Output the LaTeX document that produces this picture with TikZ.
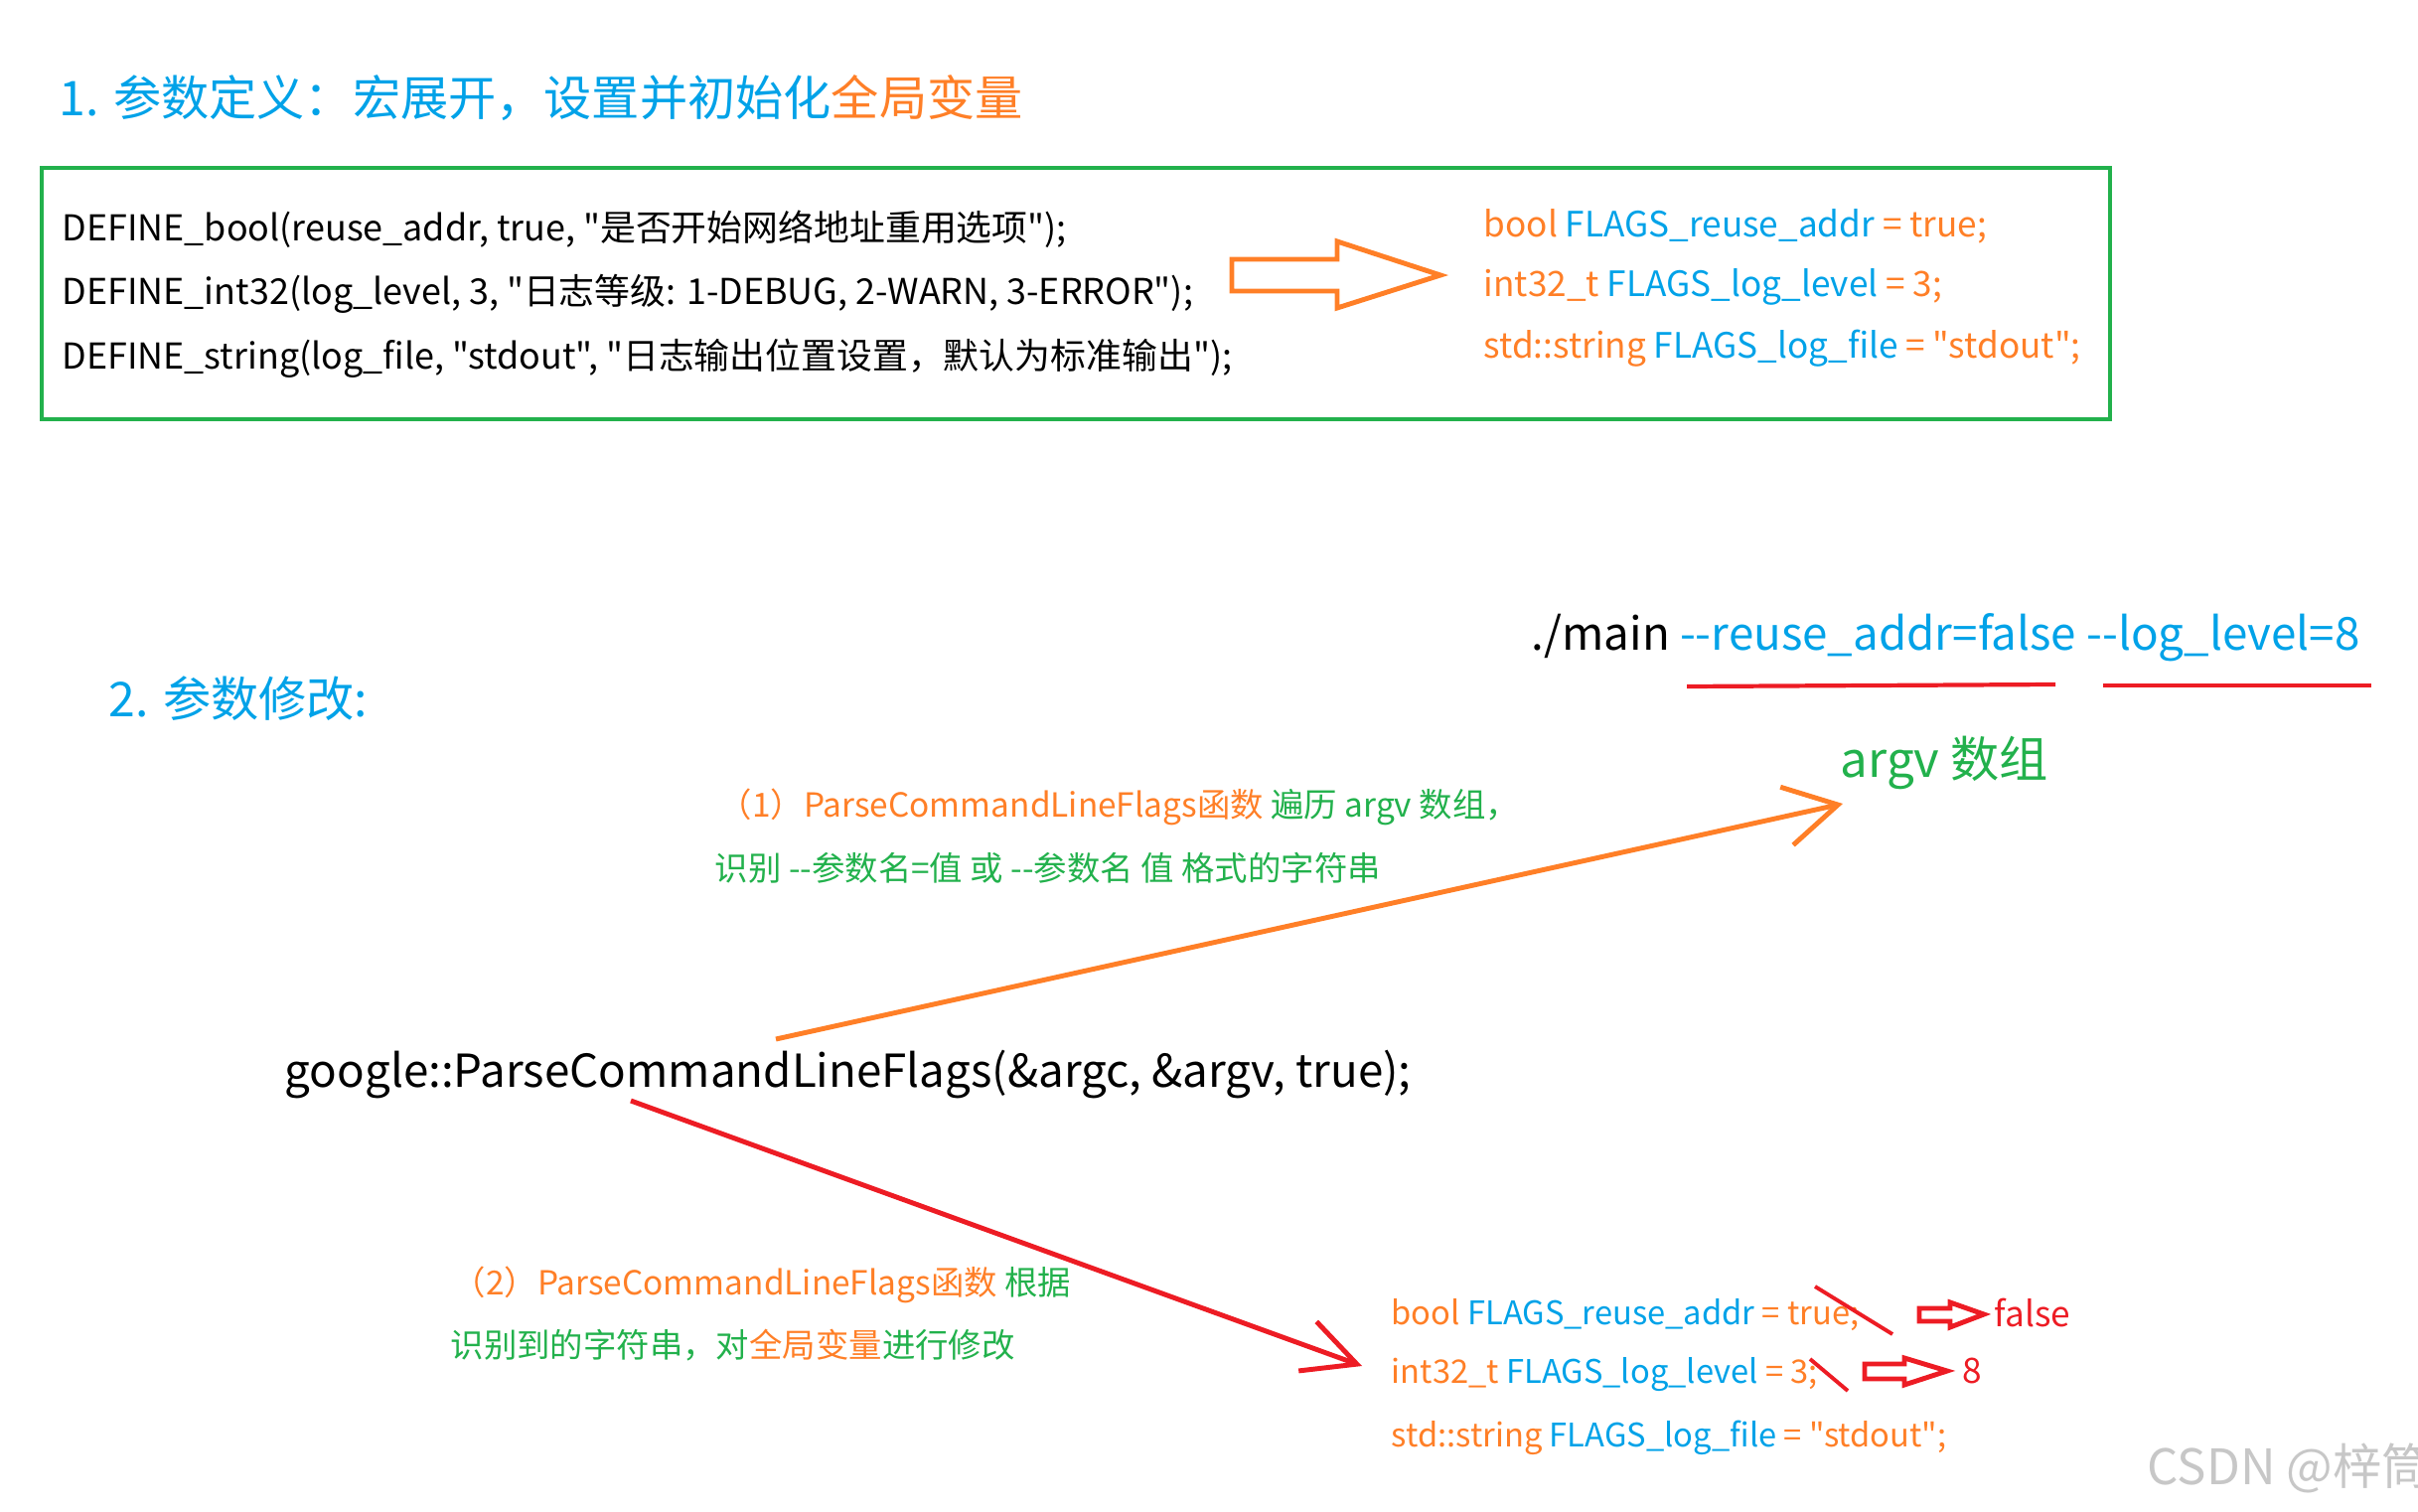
\documentclass[tikz,border=0pt]{standalone}
\usepackage{fontspec}
\setmainfont{Noto Sans CJK SC}[Ligatures=TeXOff]
\usetikzlibrary{arrows.meta}

\definecolor{paintblue}{RGB}{0,162,232}
\definecolor{paintorange}{RGB}{255,127,39}
\definecolor{paintgreen}{RGB}{34,177,76}
\definecolor{paintred}{RGB}{237,28,36}

\newcommand{\ob}[1]{\textcolor{paintorange}{#1}}
\newcommand{\bl}[1]{\textcolor{paintblue}{#1}}

\begin{document}
\begin{tikzpicture}[x=0.01cm, y=-0.01cm, >=Stealth,
    every node/.style={inner sep=0pt, anchor=west},
    head/.style={font=\fontsize{13.7}{16}\selectfont, text=paintblue},
    code/.style={font=\fontsize{10.2}{13}\selectfont},
    flag/.style={font=\fontsize{10}{13}\selectfont},
    newflag/.style={font=\fontsize{9.3}{12}\selectfont},
    big/.style={font=\fontsize{13}{16}\selectfont},
    note/.style={font=\fontsize{9.5}{12}\selectfont, text=paintgreen}]
    \useasboundingbox (0,0) rectangle (2434,1522);

    % 1. 参数定义
    \node[head] (title1) at (59,99) {1. 参数定义：宏展开，设置并初始化\ob{全局变量}};
    \draw[paintgreen, line width=1.4pt] (42,169) rectangle (2124,422);

    % DEFINE 宏
    \node[code] (defbool) at (62,231) {DEFINE\_bool(reuse\_addr, true, "是否开始网络地址重用选项");};
    \node[code] (defint) at (62,296) {DEFINE\_int32(log\_level, 3, "日志等级: 1-DEBUG, 2-WARN, 3-ERROR");};
    \node[code] (defstr) at (62,361) {DEFINE\_string(log\_file, "stdout", "日志输出位置设置，默认为标准输出");};

    % 空心箭头
    \draw[paintorange, line width=1.4pt] (1240,261) -- (1346,261) -- (1346,243) -- (1450,277)
        -- (1346,310) -- (1346,293) -- (1240,293) -- cycle;

    % 展开后的全局变量
    \node[flag] (flagbool) at (1493,228) {\ob{bool} \bl{FLAGS\_reuse\_addr} \ob{= true;}};
    \node[flag] (flagint) at (1493,289) {\ob{int32\_t} \bl{FLAGS\_log\_level} \ob{= 3;}};
    \node[flag] (flagstr) at (1493,351) {\ob{std::string} \bl{FLAGS\_log\_file} \ob{= "stdout";}};

    % 2. 参数修改
    \node[head] (title2) at (109,703) {2. 参数修改:};
    \node[big] (cmd) at (1541,642) {./main \bl{-{}-reuse\_addr=false -{}-log\_level=8}};
    \draw[paintred, line width=1.2pt] (1698,691) -- (2069,689);
    \draw[paintred, line width=1.2pt] (2117,690) -- (2387,690);
    \node[big, font=\fontsize{14}{17}\selectfont, text=paintgreen] (argv) at (1852,768) {argv 数组};

    \node[note] (step1a) at (723,812) {\ob{（1）ParseCommandLineFlags函数} 遍历 argv 数组，};
    \node[note] (step1b) at (719,874) {识别\ -{}-参数名=值\ 或\ -{}-参数名\ 值\ 格式的字符串};

    \node[big] (google) at (286,1082) {google::ParseCommandLineFlags(\&argc, \&argv, true);};

    \node[note] (step2a) at (455,1293) {\ob{（2）ParseCommandLineFlags函数} 根据};
    \node[note] (step2b) at (453,1354) {识别到的字符串，对\ob{全局变量}进行修改};

    % 修改后的全局变量
    \node[newflag] (newbool) at (1400,1324) {\ob{bool} \bl{FLAGS\_reuse\_addr} \ob{= true;}};
    \node[newflag] (newint) at (1400,1384) {\ob{int32\_t} \bl{FLAGS\_log\_level} \ob{= 3;}};
    \node[newflag] (newstr) at (1400,1447) {\ob{std::string} \bl{FLAGS\_log\_file} \ob{= "stdout";}};
    \node[flag, text=paintred] (valfalse) at (2007,1321) {false};
    \node[flag, text=paintred] (valeight) at (1975,1380) {8};

    % 划掉旧值
    \draw[paintred, line width=1.1pt] (1827,1295) -- (1905,1343);
    \draw[paintred, line width=1.1pt] (1822,1368) -- (1860,1400);
    \draw[paintred, line width=1.4pt] (1932,1317) -- (1963,1317) -- (1963,1311) -- (1997,1323)
        -- (1963,1336) -- (1963,1330) -- (1932,1330) -- cycle;
    \draw[paintred, line width=1.4pt] (1877,1373) -- (1917,1373) -- (1917,1367) -- (1960,1380)
        -- (1917,1394) -- (1917,1388) -- (1877,1388) -- cycle;

    % 连线
    \coordinate (gtop) at (781,1046);
    \coordinate (argvin) at (1855,809);
    \coordinate (gbot) at (635,1108);
    \coordinate (flagsin) at (1371,1375);
    \draw[paintorange, line width=1.4pt, -{Straight Barb[length=15pt, width=17pt]}] (gtop) -- (argvin);
    \draw[paintred, line width=1.4pt, -{Straight Barb[length=15pt, width=15pt]}] (gbot) -- (flagsin);

    % 水印
    \node[font=\fontsize{14}{16}\selectfont, text=black!22] (mark) at (2161,1478) {CSDN @梓筒};
\end{tikzpicture}
\end{document}
